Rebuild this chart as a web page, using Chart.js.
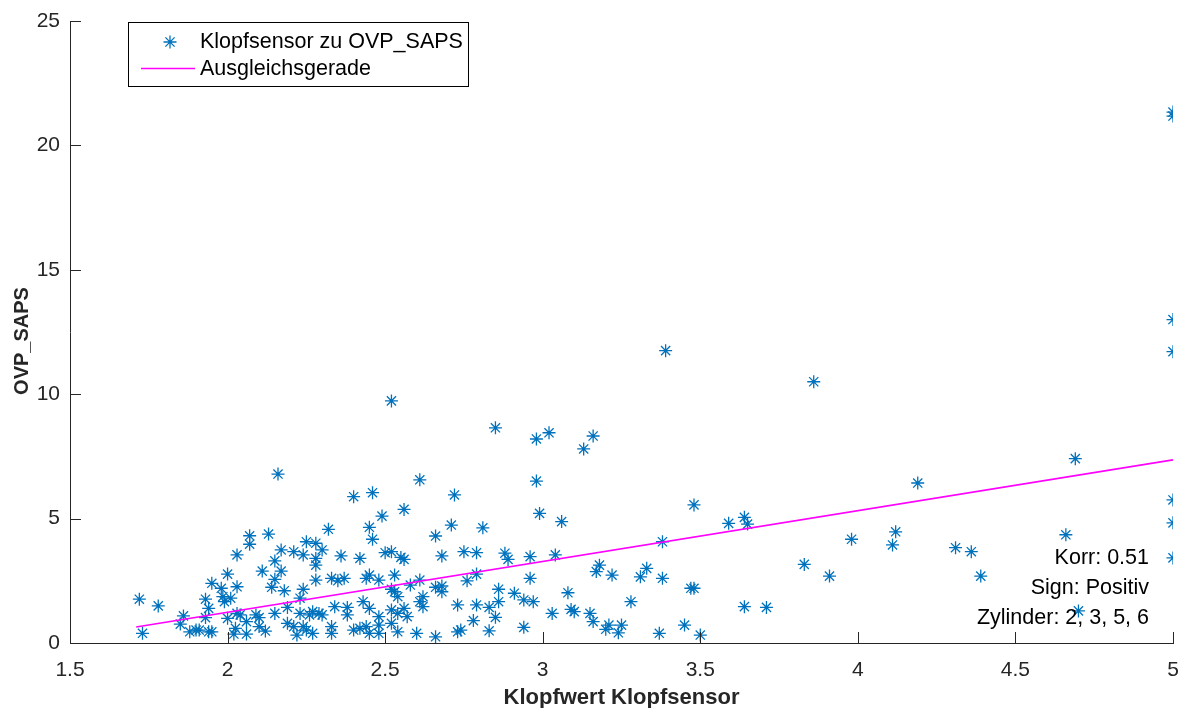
<!DOCTYPE html>
<html>
<head>
<meta charset="utf-8">
<script src="https://cdn.jsdelivr.net/npm/chart.js@4.4.1/dist/chart.umd.min.js"></script>
<style>
  html, body { margin: 0; padding: 0; background: #fff; }
  #wrap { width: 1186px; height: 708px; }
</style>
</head>
<body>
<div id="wrap"><canvas id="chart" width="1186" height="708"></canvas></div>
<script>
// Klopfwert (x) und OVP_SAPS (y)
const knockX = [
  1.72, 1.78, 1.73, 1.86, 1.85, 1.88, 1.90, 1.91, 1.94, 1.95,
  1.93, 1.94, 1.93, 1.95, 1.98, 1.985, 1.99, 2.01, 2.00, 2.03,
  2.03, 2.07, 2.07, 2.00, 2.03, 2.04, 2.06, 2.025, 2.02, 2.06,
  2.13, 2.17, 2.15, 2.11, 2.17, 2.15, 2.14, 2.18, 2.09, 2.10,
  2.15, 2.10, 2.12, 2.19, 2.19, 2.16, 2.21, 2.21, 2.22,
  2.25, 2.28, 2.30, 2.24, 2.28, 2.28, 2.36, 2.32, 2.28, 2.33,
  2.35, 2.37, 2.24, 2.23, 2.27, 2.29, 2.30, 2.34, 2.38, 2.24,
  2.26, 2.33, 2.33, 2.25, 2.27, 2.23, 2.38,
  2.40, 2.46, 2.49, 2.45, 2.46, 2.42, 2.50, 2.52, 2.44, 2.45,
  2.48, 2.53, 2.52, 2.53, 2.54, 2.43, 2.45, 2.48, 2.52, 2.54,
  2.40, 2.42, 2.44, 2.45, 2.48, 2.48, 2.52, 2.54, 2.52,
  2.56, 2.61, 2.72, 2.66, 2.71, 2.55, 2.56, 2.68, 2.58, 2.61,
  2.66, 2.68, 2.62, 2.61, 2.62, 2.68, 2.56, 2.57, 2.60, 2.66,
  2.75, 2.79, 2.81, 2.85, 2.79, 2.76, 2.86, 2.86, 2.83, 2.73,
  2.79, 2.85, 2.78, 2.73, 2.74, 2.83,
  2.88, 2.89, 2.96, 2.98, 3.02, 2.98, 2.99, 2.96, 2.91, 2.94,
  2.97, 2.94,
  3.04, 3.06, 3.16, 3.13, 3.08, 3.03, 3.09, 3.10, 3.15, 3.16,
  3.18, 3.17,
  3.22, 3.33, 3.31, 3.38, 3.38, 3.28, 3.21, 3.20, 3.25, 3.24,
  3.37, 3.45, 3.50, 3.47, 3.48, 3.48, 3.39,
  3.59, 3.64, 3.65, 3.64, 3.71, 3.83, 3.91, 3.86, 3.98, 4.12,
  4.11, 4.19, 4.31, 4.36, 4.39, 4.66, 4.69, 4.70,
  5, 5, 5, 5, 5, 5, 5
];
const ovpY = [
  1.76, 1.49, 0.39, 1.09, 0.76, 0.45, 0.52, 0.52, 0.45, 0.45,
  1.76, 1.39, 1.02, 2.40, 2.20, 1.86, 1.66, 1.80, 2.77, 2.26,
  3.54, 4.31, 3.97, 0.99, 1.19, 1.13, 0.86, 0.59, 0.36, 0.36,
  4.38, 3.74, 3.30, 2.89, 2.89, 2.56, 2.24, 2.10, 1.13, 1.02,
  1.19, 0.66, 0.48, 1.43, 0.79, 6.79, 3.67, 0.66, 0.32,
  4.07, 4.01, 3.74, 3.54, 3.40, 3.13, 3.50, 4.57, 2.53, 2.60,
  2.50, 2.60, 2.16, 1.80, 1.26, 1.19, 1.13, 1.46, 1.43, 0.66,
  1.13, 0.66, 0.39, 0.52, 0.39, 1.19, 1.13,
  5.88, 6.04, 5.10, 4.65, 4.17, 3.40, 3.63, 3.67, 2.60, 2.73,
  2.53, 2.73, 2.16, 2.06, 1.86, 1.66, 1.39, 1.06, 1.33, 1.19,
  0.52, 0.59, 0.66, 0.39, 0.72, 0.39, 0.79, 0.45, 9.73,
  5.37, 6.56, 5.95, 4.30, 4.74, 3.44, 3.36, 3.50, 2.33, 2.53,
  2.24, 2.29, 1.86, 1.66, 1.46, 2.06, 1.39, 1.06, 0.39, 0.25,
  3.67, 3.63, 4.63, 8.65, 2.77, 2.50, 2.16, 1.66, 1.43, 1.53,
  1.53, 1.03, 0.90, 0.45, 0.52, 0.49,
  3.61, 3.36, 3.47, 8.20, 8.45, 6.51, 5.21, 2.60, 2.00, 1.73,
  1.66, 0.63,
  3.54, 4.88, 8.32, 7.80, 2.02, 1.19, 1.35, 1.26, 1.19, 0.86,
  3.13, 2.87,
  2.73, 3.00, 2.66, 2.60, 4.07, 1.66, 0.72, 0.55, 0.72, 0.41,
  0.39, 0.72, 0.32, 2.20, 2.20, 5.55, 11.75,
  4.81, 5.05, 4.78, 1.46, 1.43, 3.16, 2.69, 10.50, 4.17, 4.47,
  3.94, 6.43, 3.83, 3.67, 2.69, 4.35, 7.41, 1.29,
  21.34, 21.18, 13.00, 11.71, 5.75, 4.83, 3.42
];

// Ausgleichsgerade (Endpunkte)
const fitX = [1.71, 5];
const fitY = [0.64, 7.36];

const xTicks = [1.5, 2, 2.5, 3, 3.5, 4, 4.5, 5];
const yTicks = [0, 5, 10, 15, 20, 25];

const infoLines = ["Korr: 0.51", "Sign: Positiv", "Zylinder: 2, 3, 5, 6"];
const legendLabels = ["Klopfsensor zu OVP_SAPS", "Ausgleichsgerade"];
const yTitle = "OVP_SAPS";

const BLUE = "#0072BD";
const PINK = "#FF00FF";
const AXIS = "#262626";
const FONT = "'Liberation Sans', Arial, Helvetica, sans-serif";

const scatterPts = knockX.map((x, i) => ({ x, y: ovpY[i] }));
const fitPts = fitX.map((x, i) => ({ x, y: fitY[i] }));

// Ticks nach innen (wie MATLAB)
const innerTicks = {
  id: "innerTicks",
  afterDatasetsDraw(chart) {
    const { ctx, chartArea: a, scales } = chart;
    ctx.save();
    ctx.strokeStyle = AXIS;
    ctx.lineWidth = 1;
    ctx.beginPath();
    xTicks.forEach(v => {
      const px = Math.round(scales.x.getPixelForValue(v)) + 0.5;
      ctx.moveTo(px, a.bottom);
      ctx.lineTo(px, a.bottom - 11);
    });
    yTicks.forEach(v => {
      const py = Math.round(scales.y.getPixelForValue(v)) + 0.5;
      ctx.moveTo(a.left, py);
      ctx.lineTo(a.left + 11, py);
    });
    ctx.stroke();
    ctx.restore();
  }
};

function drawStar(ctx, cx, cy, r) {
  ctx.beginPath();
  for (let k = 0; k < 4; k++) {
    const ang = k * Math.PI / 4;
    const dx = Math.cos(ang) * r, dy = Math.sin(ang) * r;
    ctx.moveTo(cx - dx, cy - dy);
    ctx.lineTo(cx + dx, cy + dy);
  }
  ctx.stroke();
}

// Legende, Textbox, y-Achsentitel
const overlay = {
  id: "overlay",
  afterDraw(chart) {
    const ctx = chart.ctx;
    const a = chart.chartArea;
    ctx.save();
    ctx.fillStyle = "#fff";
    ctx.fillRect(128.5, 22.5, 340, 64);
    ctx.strokeStyle = "#000";
    ctx.lineWidth = 1;
    ctx.strokeRect(128.5, 22.5, 340, 64);

    ctx.strokeStyle = BLUE;
    ctx.lineWidth = 1.3;
    drawStar(ctx, 170, 42, 6.5);

    ctx.strokeStyle = PINK;
    ctx.lineWidth = 1.5;
    ctx.beginPath();
    ctx.moveTo(141, 68.5);
    ctx.lineTo(195, 68.5);
    ctx.stroke();

    ctx.fillStyle = "#000";
    ctx.font = "21.5px " + FONT;
    ctx.textAlign = "left";
    ctx.textBaseline = "middle";
    ctx.fillText(legendLabels[0], 200, 42);
    ctx.fillText(legendLabels[1], 200, 69);

    ctx.textAlign = "right";
    infoLines.forEach((t, i) => ctx.fillText(t, 1149, 558 + i * 30));

    // y-Titel
    ctx.fillStyle = AXIS;
    ctx.font = "bold 20px " + FONT;
    ctx.textAlign = "center";
    ctx.translate(22, (a.top + a.bottom) / 2 + 9);
    ctx.rotate(-Math.PI / 2);
    ctx.fillText(yTitle, 0, 0);
    ctx.restore();
  }
};

new Chart(document.getElementById("chart"), {
  type: "scatter",
  data: {
    datasets: [
      {
        label: legendLabels[0],
        data: scatterPts,
        pointStyle: "star",
        pointRadius: 6.5,
        pointHoverRadius: 6.5,
        borderColor: BLUE,
        backgroundColor: BLUE,
        pointBorderWidth: 1.3,
        order: 1,
      },
      {
        type: "line",
        label: legendLabels[1],
        data: fitPts,
        borderColor: PINK,
        borderWidth: 1.6,
        pointRadius: 0,
        fill: false,
        order: 0,
      },
    ],
  },
  options: {
    responsive: false,
    animation: false,
    devicePixelRatio: 1,
    layout: { padding: { top: 21, right: 13, left: 0, bottom: 0 } },
    plugins: {
      legend: { display: false },
      tooltip: { enabled: false },
    },
    scales: {
      x: {
        type: "linear",
        min: 1.5,
        max: 5,
        afterBuildTicks: s => { s.ticks = xTicks.map(v => ({ value: v })); },
        afterFit: s => {
          s.height = 65;
          s.paddingLeft = 0;
          s.paddingRight = 0;
        },
        grid: { display: false, drawTicks: false },
        border: { display: true, color: AXIS, width: 1 },
        ticks: {
          color: AXIS,
          padding: 15,
          font: { size: 21, family: FONT },
          callback: v => String(v),
        },
        title: {
          display: true,
          text: "Klopfwert Klopfsensor",
          color: AXIS,
          padding: { top: 0, bottom: -3 },
          font: { size: 22, weight: "bold", family: FONT },
        },
      },
      y: {
        type: "linear",
        min: 0,
        max: 25,
        afterBuildTicks: s => { s.ticks = yTicks.map(v => ({ value: v })); },
        afterFit: s => {
          s.width = 70;
          s.paddingTop = 0;
          s.paddingBottom = 0;
        },
        grid: { display: false, drawTicks: false },
        border: { display: true, color: AXIS, width: 1 },
        ticks: {
          color: AXIS,
          padding: 10,
          font: { size: 21, family: FONT },
          callback: v => String(v),
        },
        title: { display: false },
      },
    },
  },
  plugins: [innerTicks, overlay],
});
</script>
</body>
</html>
